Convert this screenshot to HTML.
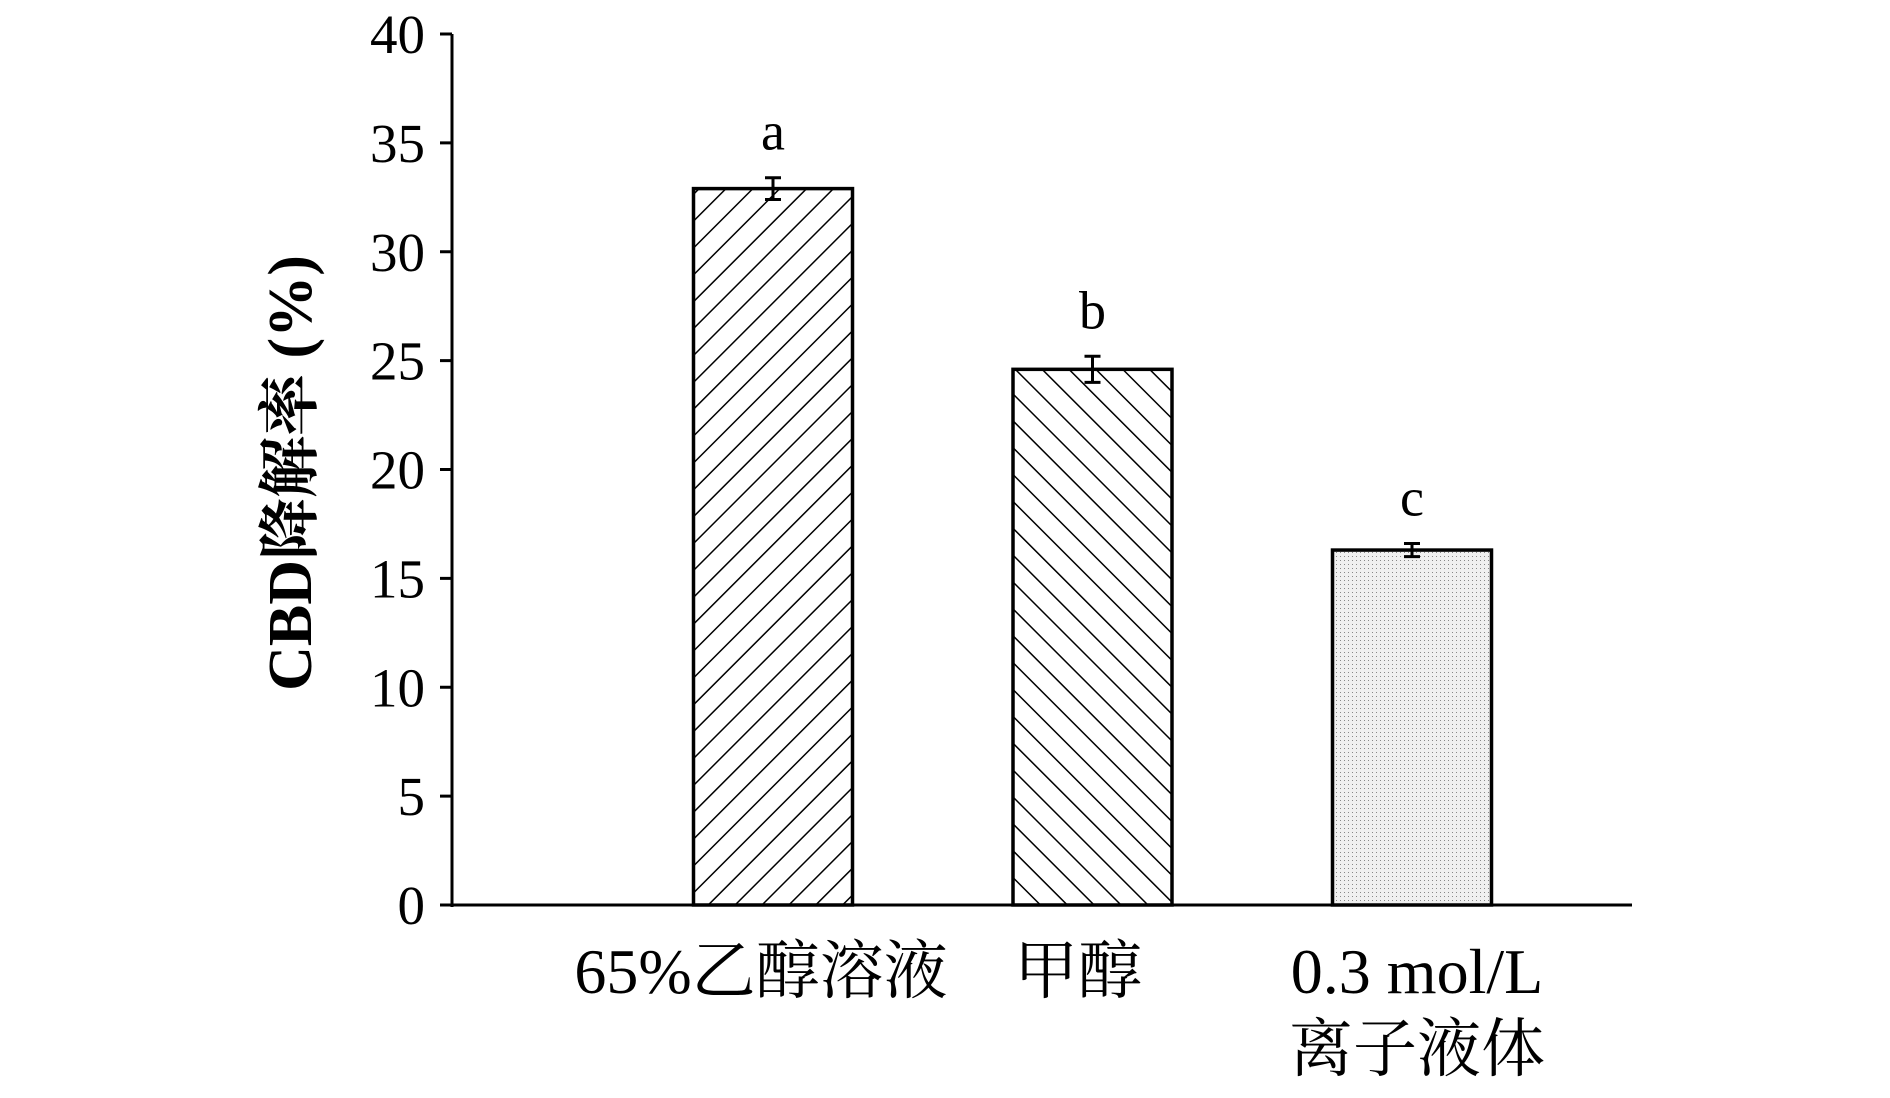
<!DOCTYPE html>
<html><head><meta charset="utf-8"><style>
body{margin:0;background:#fff}
svg text{font-family:"Liberation Serif","Noto Serif CJK SC",serif;fill:#000}
</style></head><body>
<svg width="1890" height="1093" viewBox="0 0 1890 1093">
<defs>
<pattern id="fwd" patternUnits="userSpaceOnUse" width="19" height="19" patternTransform="rotate(45)"><line x1="0" y1="0" x2="0" y2="19" stroke="#000" stroke-width="3"/></pattern>
<pattern id="bwd" patternUnits="userSpaceOnUse" width="19" height="19" patternTransform="rotate(-45)"><line x1="0" y1="0" x2="0" y2="19" stroke="#000" stroke-width="3"/></pattern>
<pattern id="dots" patternUnits="userSpaceOnUse" width="4" height="4"><rect width="4" height="4" fill="#f0f0f0"/><rect width="1" height="1" fill="#888"/></pattern>
</defs>
<g id="plot"></g>
<text x="311" y="473" transform="rotate(-90 311 473)" text-anchor="middle" font-size="62" font-weight="bold">CBD降解率 (%)</text>
<text x="761" y="993" text-anchor="middle" font-size="64">65%乙醇溶液</text>
<text x="1078" y="993" text-anchor="middle" font-size="64">甲醇</text>
<text x="1417" y="993" text-anchor="middle" font-size="64">0.3 mol/L</text>
<text x="1417" y="1071" text-anchor="middle" font-size="64">离子液体</text>
</svg>
<script>
const categories=["65%乙醇溶液","甲醇","离子液体"];
const values=[32.9,24.6,16.3];
const errors=[0.5,0.6,0.3];
const letters=["a","b","c"];
const ticks=[0,5,10,15,20,25,30,35,40];
const fills=["url(#fwd)","url(#bwd)","url(#dots)"];
const NS="http://www.w3.org/2000/svg";
const g=document.getElementById('plot');
const y0=905,y1=34,xL=452,xR=1632;
const yS=v=>y0-(v/40)*(y0-y1);
const barW=159,centers0=773,step=319.5;
const xC=i=>centers0+i*step;
function mk(t,a,p){const e=document.createElementNS(NS,t);for(const k in a)e.setAttribute(k,a[k]);(p||g).appendChild(e);return e;}
let e;
e=mk('line',{x1:xL,y1:y1,x2:xL,y2:y0+2,stroke:'#000','stroke-width':3});


e=mk('line',{x1:xL-2,y1:y0,x2:xR,y2:y0,stroke:'#000','stroke-width':3});


ticks.forEach(t=>{
 e=mk('line',{x1:xL-12,y1:yS(t),x2:xL,y2:yS(t),stroke:'#000','stroke-width':3});
 
 
 e=mk('text',{x:425,y:yS(t)+19,'text-anchor':'end','font-size':55});
 e.textContent=t;
 
 
});
values.forEach((v,i)=>{
 const x=xC(i)-barW/2,y=yS(v);
 e=mk('rect',{x:x,y:y,width:barW,height:y0-y,fill:fills[i],stroke:'#000','stroke-width':3.5});
 
 
 const et=yS(v+errors[i]),eb=yS(v-errors[i]);
 e=mk('path',{d:`M${xC(i)} ${et}V${eb}M${xC(i)-8} ${et}H${xC(i)+8}M${xC(i)-8} ${eb}H${xC(i)+8}`,stroke:'#000','stroke-width':3,fill:'none'});
 
 
 e=mk('text',{x:xC(i),y:et-28,'text-anchor':'middle','font-size':54});
 e.textContent=letters[i];
 
 
});
</script>
</body></html>
